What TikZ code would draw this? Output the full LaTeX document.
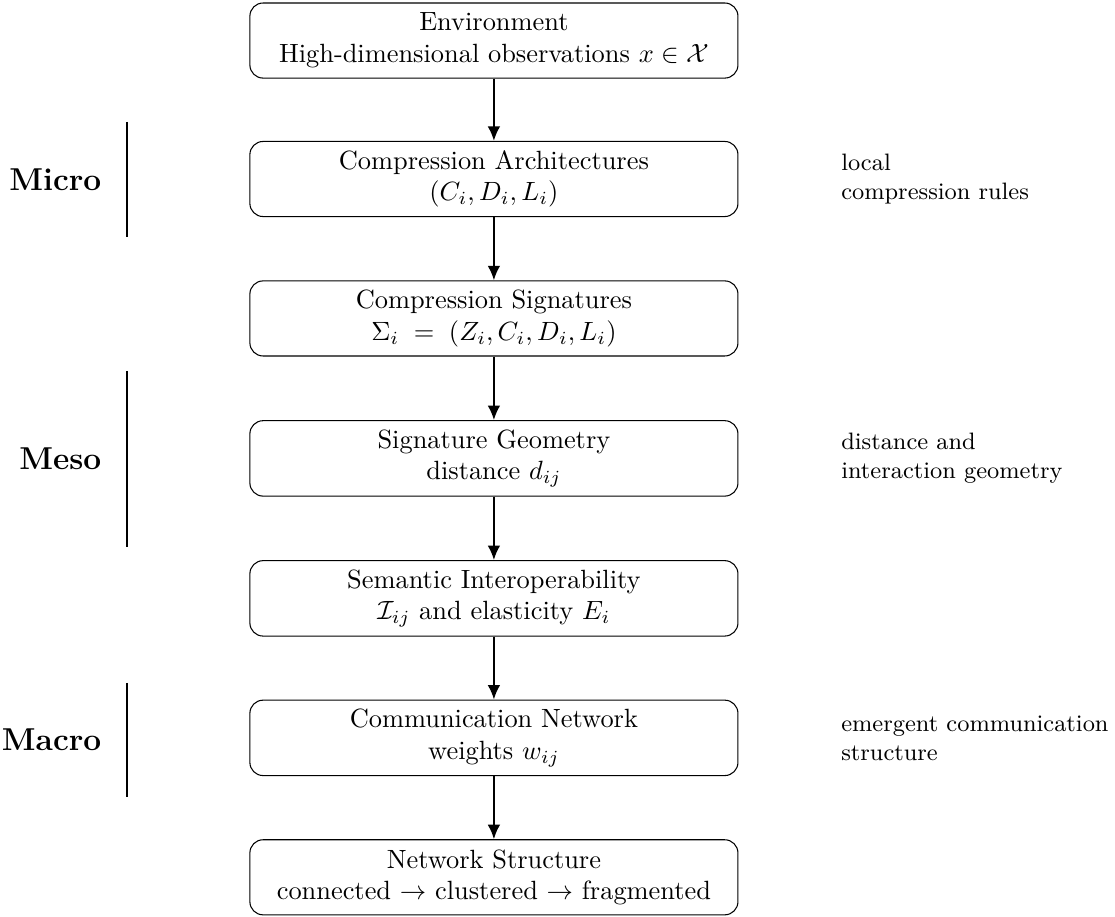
\documentclass[tikz,border=0pt]{standalone}
\usepackage{amsmath}
\usepackage{xcolor}
\usepackage{tikz}
\usetikzlibrary{arrows.meta,positioning}

\begin{document}
\begin{tikzpicture}[
  stage/.style={rectangle, rounded corners=5pt, draw=black, minimum width=6.5cm, minimum height=1cm, align=center, font=\normalsize},
  scalelabel/.style={anchor=east, font=\large\bfseries},
  scalebar/.style={thick, black},
  note/.style={anchor=west, align=left, font=\small},
  flow/.style={-{Latex[length=5.5pt,width=4.8pt]}, thick},
  >=Stealth
]
  \useasboundingbox (0,0) rectangle (14.85,-12.21);

  % Pipeline (centre column)
  \node[stage] (env) at (6.578, -0.540) {Environment\\High-dimensional observations $x \in \mathcal{X}$};
  \node[stage] (arch) at (6.578, -2.384) {Compression Architectures\\$(C_i, D_i, L_i)$};
  \node[stage] (sig) at (6.578, -4.241) {Compression Signatures\\$\Sigma_i \;=\; (Z_i, C_i, D_i, L_i)$};
  \node[stage] (geom) at (6.578, -6.105) {Signature Geometry\\distance $d_{ij}$};
  \node[stage] (interop) at (6.578, -7.969) {Semantic Interoperability\\$\mathcal{I}_{ij}$ and elasticity $E_i$};
  \node[stage] (comm) at (6.578, -9.827) {Communication Network\\weights $w_{ij}$};
  \node[stage] (struct) at (6.578, -11.684) {Network Structure\\connected $\to$ clustered $\to$ fragmented};

  % Flow arrows
  \draw[flow] (env) -- (arch);
  \draw[flow] (arch) -- (sig);
  \draw[flow] (sig) -- (geom);
  \draw[flow] (geom) -- (interop);
  \draw[flow] (interop) -- (comm);
  \draw[flow] (comm) -- (struct);

  % Scale markers (left)
  \coordinate (microtop) at (1.691, -1.624);
  \coordinate (microbot) at (1.691, -3.156);
  \coordinate (mesotop) at (1.691, -4.940);
  \coordinate (mesobot) at (1.691, -7.284);
  \coordinate (macrotop) at (1.691, -9.095);
  \coordinate (macrobot) at (1.691, -10.613);
  \draw[scalebar] (microtop) -- (microbot);
  \draw[scalebar] (mesotop) -- (mesobot);
  \draw[scalebar] (macrotop) -- (macrobot);
  \node[scalelabel] (micro) at (1.473, -2.390) {Micro};
  \node[scalelabel] (meso) at (1.473, -6.112) {Meso};
  \node[scalelabel] (macro) at (1.473, -9.854) {Macro};

  % Notes (right)
  \node[note] (archnote) at (11.08, -2.384) {local\\compression rules};
  \node[note] (geomnote) at (11.08, -6.105) {distance and\\interaction geometry};
  \node[note] (commnote) at (11.08, -9.827) {emergent communication\\structure};
\end{tikzpicture}
\end{document}
